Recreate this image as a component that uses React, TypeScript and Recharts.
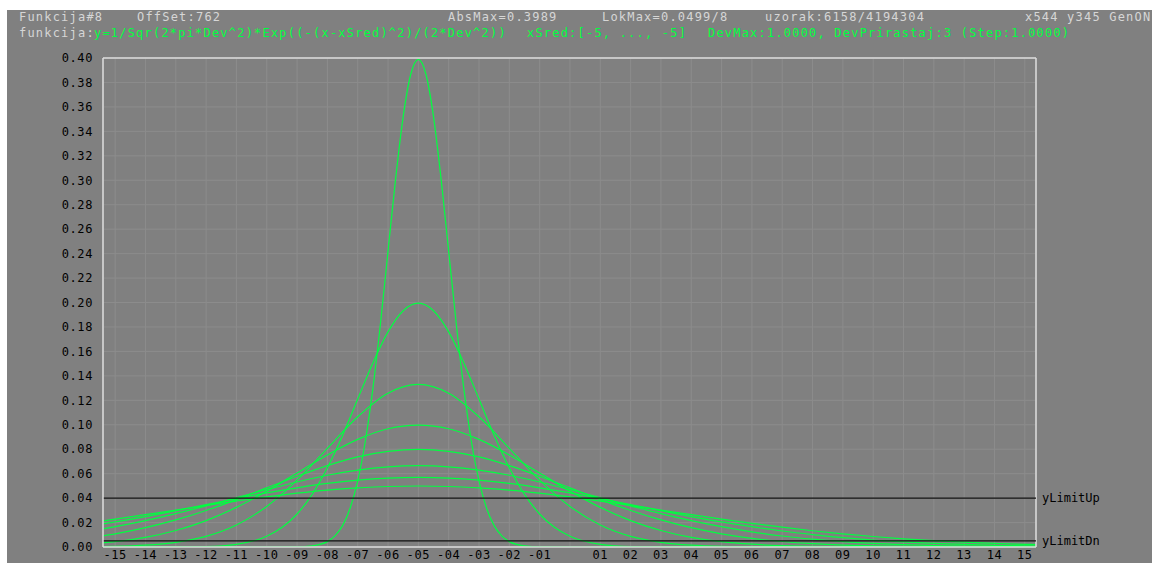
import React from 'react';
import { LineChart, Line, XAxis, YAxis, CartesianGrid, ReferenceLine } from 'recharts';

// x positions shared by the wide curves (Dev 3..8)
const X_COARSE = [-15.4, -15, -14, -13, -12, -11, -10, -9, -8, -7, -6, -5, -4, -3, -2, -1, 0, 1, 2, 3, 4, 5, 6, 7, 8, 9, 10, 11, 12, 13, 14, 15, 15.37];

const DEV3 = [0.0003, 0.0005, 0.0015, 0.0038, 0.0087, 0.018, 0.0332, 0.0547, 0.0807, 0.1065, 0.1258, 0.133, 0.1258, 0.1065, 0.0807, 0.0547, 0.0332, 0.018, 0.0087, 0.0038, 0.0015, 0.0005, 0.0002, 0, 0, 0, 0, 0, 0, 0, 0, 0, 0];
const DEV4 = [0.0034, 0.0044, 0.0079, 0.0135, 0.0216, 0.0324, 0.0457, 0.0605, 0.0753, 0.088, 0.0967, 0.0997, 0.0967, 0.088, 0.0753, 0.0605, 0.0457, 0.0324, 0.0216, 0.0135, 0.0079, 0.0044, 0.0023, 0.0011, 0.0005, 0.0002, 0.0001, 0, 0, 0, 0, 0, 0];
const DEV5 = [0.0092, 0.0108, 0.0158, 0.0222, 0.0299, 0.0388, 0.0484, 0.0579, 0.0666, 0.0737, 0.0782, 0.0798, 0.0782, 0.0737, 0.0666, 0.0579, 0.0484, 0.0388, 0.0299, 0.0222, 0.0158, 0.0108, 0.0071, 0.0045, 0.0027, 0.0016, 0.0009, 0.0005, 0.0002, 0.0001, 0.0001, 0, 0];
const DEV6 = [0.0148, 0.0166, 0.0216, 0.0273, 0.0337, 0.0403, 0.047, 0.0532, 0.0587, 0.0629, 0.0656, 0.0665, 0.0656, 0.0629, 0.0587, 0.0532, 0.047, 0.0403, 0.0337, 0.0273, 0.0216, 0.0166, 0.0124, 0.009, 0.0064, 0.0044, 0.0029, 0.0019, 0.0012, 0.0007, 0.0004, 0.0003, 0.0002];
const DEV7 = [0.0189, 0.0205, 0.0249, 0.0297, 0.0346, 0.0395, 0.0442, 0.0484, 0.052, 0.0547, 0.0564, 0.057, 0.0564, 0.0547, 0.052, 0.0484, 0.0442, 0.0395, 0.0346, 0.0297, 0.0249, 0.0205, 0.0166, 0.0131, 0.0102, 0.0077, 0.0057, 0.0042, 0.003, 0.0021, 0.0014, 0.001, 0.0008];
const DEV8 = [0.0214, 0.0228, 0.0265, 0.0302, 0.034, 0.0376, 0.041, 0.044, 0.0465, 0.0483, 0.0495, 0.0499, 0.0495, 0.0483, 0.0465, 0.044, 0.041, 0.0376, 0.034, 0.0302, 0.0265, 0.0228, 0.0194, 0.0162, 0.0133, 0.0108, 0.0086, 0.0067, 0.0052, 0.004, 0.003, 0.0022, 0.002];

// narrow curves need denser points
const X_DEV1 = [-15.4, -10, -9, -8.5, -8, -7.75, -7.5, -7.25, -7, -6.75, -6.5, -6.25, -6, -5.75, -5.5, -5.25, -5, -4.75, -4.5, -4.25, -4, -3.75, -3.5, -3.25, -3, -2.75, -2.5, -2.25, -2, -1.5, -1, 0, 15.37];
const DEV1 = [0, 0, 0.0001, 0.0009, 0.0044, 0.0091, 0.0175, 0.0317, 0.054, 0.0863, 0.1295, 0.1826, 0.242, 0.3011, 0.3521, 0.3867, 0.3989, 0.3867, 0.3521, 0.3011, 0.242, 0.1826, 0.1295, 0.0863, 0.054, 0.0317, 0.0175, 0.0091, 0.0044, 0.0009, 0.0001, 0, 0];

const X_DEV2 = [-15.4, -13, -12, -11, -10, -9.5, -9, -8.5, -8, -7.5, -7, -6.5, -6, -5.5, -5, -4.5, -4, -3.5, -3, -2.5, -2, -1.5, -1, -0.5, 0, 1, 2, 3, 15.37];
const DEV2 = [0, 0.0001, 0.0004, 0.0022, 0.0088, 0.0159, 0.027, 0.0431, 0.0648, 0.0913, 0.121, 0.1506, 0.176, 0.1933, 0.1995, 0.1933, 0.176, 0.1506, 0.121, 0.0913, 0.0648, 0.0431, 0.027, 0.0159, 0.0088, 0.0022, 0.0004, 0.0001, 0];

const X_TICKS = [-15, -14, -13, -12, -11, -10, -9, -8, -7, -6, -5, -4, -3, -2, -1, 0, 1, 2, 3, 4, 5, 6, 7, 8, 9, 10, 11, 12, 13, 14, 15];
const X_TICK_LABELS = ['-15', '-14', '-13', '-12', '-11', '-10', '-09', '-08', '-07', '-06', '-05', '-04', '-03', '-02', '-01', '', '01', '02', '03', '04', '05', '06', '07', '08', '09', '10', '11', '12', '13', '14', '15'];
const Y_TICKS = [0, 0.02, 0.04, 0.06, 0.08, 0.1, 0.12, 0.14, 0.16, 0.18, 0.2, 0.22, 0.24, 0.26, 0.28, 0.3, 0.32, 0.34, 0.36, 0.38, 0.4];
const X_DOMAIN = [-15.4, 15.37];
const Y_DOMAIN = [0, 0.4];

const Y_LIMIT_UP = 0.04;
const Y_LIMIT_DN = 0.005;
const LIMIT_LABELS = ['yLimitUp', 'yLimitDn'];

const HEADER_TOP = ['Funkcija#8', 'OffSet:762', 'AbsMax=0.3989', 'LokMax=0.0499/8', 'uzorak:6158/4194304', 'x544 y345 GenON'];
const HEADER_LABEL = 'funkcija:';
const HEADER_GREEN = ['y=1/Sqr(2*pi*Dev^2)*Exp((-(x-xSred)^2)/(2*Dev^2))', 'xSred:[-5, ..., -5]', 'DevMax:1.0000, DevPrirastaj:3 (Step:1.0000)'];

const toRows = (xs: number[], ys: number[]) => xs.map((x, i) => ({ x, y: ys[i] }));

const SERIES = [
  { key: 'dev1', data: toRows(X_DEV1, DEV1) },
  { key: 'dev2', data: toRows(X_DEV2, DEV2) },
  { key: 'dev3', data: toRows(X_COARSE, DEV3) },
  { key: 'dev4', data: toRows(X_COARSE, DEV4) },
  { key: 'dev5', data: toRows(X_COARSE, DEV5) },
  { key: 'dev6', data: toRows(X_COARSE, DEV6) },
  { key: 'dev7', data: toRows(X_COARSE, DEV7) },
  { key: 'dev8', data: toRows(X_COARSE, DEV8) },
];

const W = 1145;
const H = 553;
const MONO = '"DejaVu Sans Mono", monospace';
const GREEN = '#00ff40';
const HEAD_GRAY = '#d6d6d6';
const BORDER = '#dcdcdc';

const TOP_X = [12, 130, 441, 595, 758, 1018];
const GREEN_X = [87, 520, 701];

export default function App() {
  const tickStyle = { fill: '#000', fontSize: 12, fontFamily: MONO, letterSpacing: 0.6 };
  return (
    <div style={{ position: 'absolute', left: 7, top: 10, width: W, height: H, background: '#808080', overflow: 'hidden' }}>
      <svg width={W} height={40} style={{ position: 'absolute', left: 0, top: 0 }}>
        {HEADER_TOP.map((t, i) => (
          <text key={t} x={TOP_X[i]} y={10.7} fill={HEAD_GRAY} fontFamily={MONO} fontSize={12} letterSpacing={1.2} style={{ whiteSpace: 'pre' }}>{t}</text>
        ))}
        <text x={12} y={26.7} fill={HEAD_GRAY} fontFamily={MONO} fontSize={12} letterSpacing={1.2}>{HEADER_LABEL}</text>
        {HEADER_GREEN.map((t, i) => (
          <text key={t} x={GREEN_X[i]} y={26.7} fill={GREEN} fontFamily={MONO} fontSize={12} letterSpacing={1.2} style={{ whiteSpace: 'pre' }}>{t}</text>
        ))}
      </svg>
      <div style={{ position: 'absolute', left: 0, top: 0 }}>
        <LineChart width={W} height={H} margin={{ top: 48, right: 116, bottom: 0, left: 0 }}>
          <CartesianGrid stroke="#8c8c8c" strokeWidth={1} />
          <XAxis
            type="number"
            dataKey="x"
            domain={X_DOMAIN}
            ticks={X_TICKS}
            interval={0}
            allowDataOverflow
            height={16}
            tickSize={0}
            tickMargin={3}
            tickLine={false}
            axisLine={{ stroke: BORDER, strokeWidth: 1.5 }}
            tick={tickStyle}
            tickFormatter={(v: number) => X_TICK_LABELS[X_TICKS.indexOf(v)] ?? ''}
          />
          <YAxis
            type="number"
            domain={Y_DOMAIN}
            ticks={Y_TICKS}
            interval={0}
            allowDataOverflow
            width={96}
            tickSize={0}
            tickMargin={10}
            tickLine={false}
            axisLine={{ stroke: BORDER, strokeWidth: 1.5 }}
            tick={tickStyle}
            tickFormatter={(v: number) => v.toFixed(2)}
          />
          {SERIES.map((s) => (
            <Line
              key={s.key}
              data={s.data}
              dataKey="y"
              type="monotone"
              stroke={GREEN}
              strokeWidth={1.2}
              dot={false}
              activeDot={false}
              isAnimationActive={false}
            />
          ))}
          <ReferenceLine y={Y_DOMAIN[1]} stroke={BORDER} strokeWidth={1.5} />
          <ReferenceLine x={X_DOMAIN[1]} stroke={BORDER} strokeWidth={1.5} />
          <ReferenceLine
            y={Y_LIMIT_UP}
            stroke="#111"
            strokeWidth={1.4}
            label={{ value: LIMIT_LABELS[0], position: 'right', fill: '#000', fontSize: 12, fontFamily: MONO, offset: 6 }}
          />
          <ReferenceLine
            y={Y_LIMIT_DN}
            stroke="#111"
            strokeWidth={1.4}
            label={{ value: LIMIT_LABELS[1], position: 'right', fill: '#000', fontSize: 12, fontFamily: MONO, offset: 6 }}
          />
        </LineChart>
      </div>
    </div>
  );
}
